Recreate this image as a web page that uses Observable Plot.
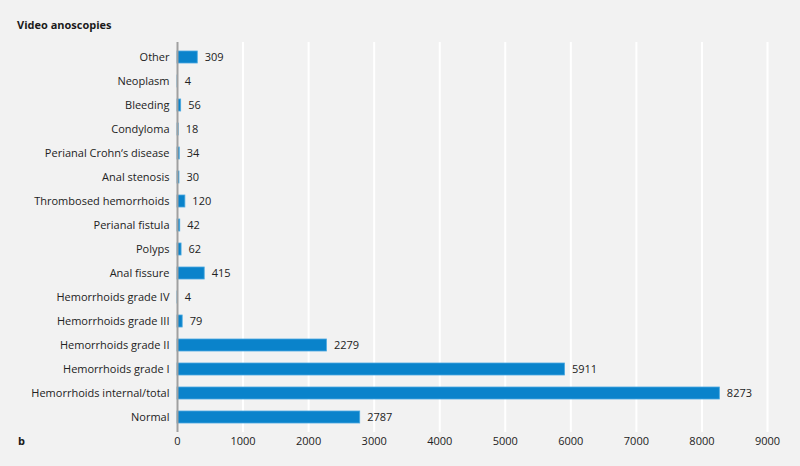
<!DOCTYPE html>
<html>
<head>
<meta charset="utf-8">
<script src="https://cdn.jsdelivr.net/npm/d3@7"></script>
<script src="https://cdn.jsdelivr.net/npm/@observablehq/plot@0.6"></script>
<style>
  html, body { margin: 0; padding: 0; background: #f2f2f2; }
  #wrap { position: relative; width: 800px; height: 466px; overflow: hidden; }
  .title { position: absolute; left: 17px; top: 17px; font: bold 11px "Open Sans", sans-serif; color: #1a1a1a; }
  .panel { position: absolute; left: 18px; top: 433px; font: bold 11px "Open Sans", sans-serif; color: #1a1a1a; }
</style>
</head>
<body>
<div id="wrap">
  <div id="chart"></div>
  <div class="title">Video anoscopies</div>
  <div class="panel">b</div>
</div>
<script>
const categories = [
  "Other", "Neoplasm", "Bleeding", "Condyloma", "Perianal Crohn‘s disease",
  "Anal stenosis", "Thrombosed hemorrhoids", "Perianal fistula", "Polyps",
  "Anal fissure", "Hemorrhoids grade IV", "Hemorrhoids grade III",
  "Hemorrhoids grade II", "Hemorrhoids grade I", "Hemorrhoids internal/total", "Normal"
];
const counts = [309, 4, 56, 18, 34, 30, 120, 42, 62, 415, 4, 79, 2279, 5911, 8273, 2787];
const xTicks = [0, 1000, 2000, 3000, 4000, 5000, 6000, 7000, 8000, 9000];

const data = categories.map((c, i) => ({category: c, count: counts[i]}));

const chart = Plot.plot({
  width: 800,
  height: 466,
  marginLeft: 177,
  marginRight: 33,
  marginTop: 44,
  marginBottom: 36,
  style: {background: "#f2f2f2", fontFamily: "'Open Sans', sans-serif", fontSize: "11px", color: "#222"},
  x: {domain: [0, 9000], ticks: xTicks, tickFormat: d => String(d), label: null, tickSize: 0, tickPadding: 7},
  y: {domain: categories, label: null, tickSize: 0, tickPadding: 8, paddingInner: 0.5, paddingOuter: 0.25},
  marks: [
    Plot.ruleX(xTicks.slice(1), {stroke: "#ffffff", strokeWidth: 2, insetTop: -2, insetBottom: -2}),
    Plot.barX(data, {x: "count", y: "category", fill: "#0a83cb", stroke: "#4aa9e0", strokeWidth: 0.8}),
    Plot.text(data, {x: "count", y: "category", text: d => String(d.count), textAnchor: "start", dx: 7, fill: "#222", fontSize: 11}),
    Plot.ruleX([0], {stroke: "#a0a0a0", strokeWidth: 2, insetTop: -2, insetBottom: -2})
  ]
});
document.getElementById("chart").appendChild(chart);
</script>
</body>
</html>
